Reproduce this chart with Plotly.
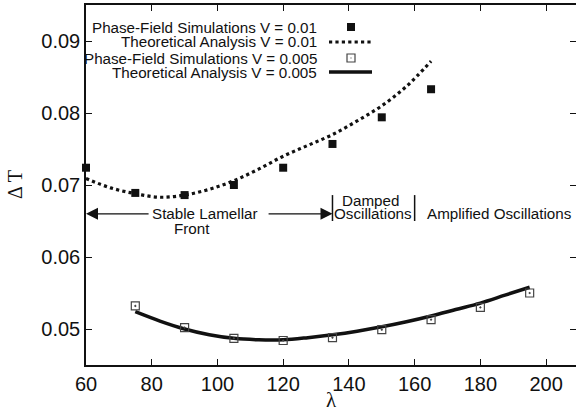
import plotly.graph_objects as go

# ---------------- data ----------------
lam_sim_01 = [60, 75, 90, 105, 120, 135, 150, 165]
dT_sim_01 = [0.0724, 0.0689, 0.0686, 0.0700, 0.0724, 0.0757, 0.0794, 0.0833]

lam_th_01 = [60, 67.5, 75, 82.5, 90, 97.5, 105, 112.5, 120, 127.5, 135, 142.5, 150, 157.5, 165]
dT_th_01 = [0.0709, 0.0696, 0.0688, 0.0683, 0.0686, 0.0694, 0.0706, 0.0722, 0.0740,
            0.0755, 0.0770, 0.0789, 0.0810, 0.0837, 0.0872]

lam_sim_005 = [75, 90, 105, 120, 135, 150, 165, 180, 195]
dT_sim_005 = [0.0532, 0.0502, 0.0487, 0.0484, 0.0488, 0.0499, 0.0513, 0.0530, 0.0550]

lam_th_005 = [75, 82.5, 90, 97.5, 105, 112.5, 120, 127.5, 135, 142.5, 150, 157.5, 165,
              172.5, 180, 187.5, 195]
dT_th_005 = [0.0524, 0.0511, 0.0500, 0.0492, 0.0487, 0.0485, 0.0485, 0.0488, 0.0492,
             0.0497, 0.0503, 0.0510, 0.0518, 0.0527, 0.0536, 0.0547, 0.0558]

x_ticks = [60, 80, 100, 120, 140, 160, 180, 200]
y_ticks = [0.05, 0.06, 0.07, 0.08, 0.09]
y_ticktext = ["0.05", "0.06", "0.07", "0.08", "0.09"]

legend_labels = ["Phase-Field Simulations V = 0.01",
                 "Theoretical Analysis V = 0.01",
                 "Phase-Field Simulations V = 0.005",
                 "Theoretical Analysis V = 0.005"]

# ---------------- geometry ----------------
W, H = 576, 415
ML, MR, MT, MB = 86, 0, 5, 50
PW, PH = W - ML - MR, H - MT - MB
X_RANGE = [60, 209.1]
Y_RANGE = [0.045, 0.095]

def px(xp):
    return (xp - ML) / PW

def py(yp):
    return (H - MB - yp) / PH

FONT = "Liberation Sans, Arial, Helvetica, sans-serif"
SERIF = "Liberation Serif, Times New Roman, serif"
BLACK = "#111111"
TXT = 15.2

fig = go.Figure()

fig.add_trace(go.Scatter(x=lam_th_01, y=dT_th_01, mode="lines", line_shape="spline",
                         line=dict(color=BLACK, width=3.2, dash="dot"), showlegend=False))
fig.add_trace(go.Scatter(x=lam_th_005, y=dT_th_005, mode="lines", line_shape="spline",
                         line=dict(color=BLACK, width=3.5), showlegend=False))
fig.add_trace(go.Scatter(x=lam_sim_01, y=dT_sim_01, mode="markers",
                         marker=dict(symbol="square", size=8, color=BLACK), showlegend=False,
                         cliponaxis=False))
fig.add_trace(go.Scatter(x=lam_sim_005, y=dT_sim_005, mode="markers",
                         marker=dict(symbol="square-open-dot", size=8, color="#444444",
                                     line=dict(width=1.2, color="#444444")),
                         showlegend=False))
fig.add_trace(go.Scatter(x=[], y=[], yaxis="y2", showlegend=False, hoverinfo="skip"))

shapes = []
annotations = []

# ---- legend (text right-aligned, key to the right) ----
rows_y = [27, 42, 58, 72]
for lbl, ry in zip(legend_labels, rows_y):
    annotations.append(dict(text=lbl, xref="paper", yref="paper", x=px(319), y=py(ry),
                            xanchor="right", yanchor="middle", showarrow=False,
                            font=dict(family=FONT, size=TXT, color=BLACK)))
# filled square key
shapes.append(dict(type="rect", xref="paper", yref="paper",
                   x0=px(347), x1=px(355), y0=py(31), y1=py(23),
                   fillcolor=BLACK, line=dict(width=0)))
# dotted line key
shapes.append(dict(type="line", xref="paper", yref="paper",
                   x0=px(329), x1=px(372), y0=py(42), y1=py(42),
                   line=dict(color=BLACK, width=3.2, dash="dot")))
# open square key
shapes.append(dict(type="rect", xref="paper", yref="paper",
                   x0=px(347), x1=px(355), y0=py(62), y1=py(54),
                   fillcolor="rgba(0,0,0,0)", line=dict(color="#444444", width=1.2)))
shapes.append(dict(type="rect", xref="paper", yref="paper",
                   x0=px(350.5), x1=px(351.5), y0=py(58.5), y1=py(57.5),
                   fillcolor="#444444", line=dict(width=0)))
# solid line key
shapes.append(dict(type="line", xref="paper", yref="paper",
                   x0=px(329), x1=px(372), y0=py(72), y1=py(72),
                   line=dict(color=BLACK, width=3.5)))

# ---- regime annotations ----
arrow_y = 0.0660
annotations.append(dict(x=60, y=arrow_y, ax=79.5, ay=arrow_y, xref="x", yref="y",
                        axref="x", ayref="y", text="", showarrow=True,
                        arrowhead=2, arrowsize=2, arrowwidth=1.2, arrowcolor=BLACK))
annotations.append(dict(x=135, y=arrow_y, ax=115.1, ay=arrow_y, xref="x", yref="y",
                        axref="x", ayref="y", text="", showarrow=True,
                        arrowhead=2, arrowsize=2, arrowwidth=1.2, arrowcolor=BLACK))
annotations.append(dict(text="Stable Lamellar", x=96.2, y=arrow_y, xref="x", yref="y",
                        showarrow=False, xanchor="center", yanchor="middle",
                        font=dict(family=FONT, size=TXT, color=BLACK)))
annotations.append(dict(text="Front", x=92.3, y=0.0639, xref="x", yref="y",
                        showarrow=False, xanchor="center", yanchor="middle",
                        font=dict(family=FONT, size=TXT, color=BLACK)))
for xv in [135, 160]:
    shapes.append(dict(type="line", xref="x", yref="y", x0=xv, x1=xv,
                       y0=0.0650, y1=0.0686, line=dict(color=BLACK, width=1.5)))
annotations.append(dict(text="Damped", x=146.5, y=0.0679, xref="x", yref="y",
                        showarrow=False, xanchor="center", yanchor="middle",
                        font=dict(family=FONT, size=TXT, color=BLACK)))
annotations.append(dict(text="Oscillations", x=147.4, y=arrow_y + 0.0001, xref="x", yref="y",
                        showarrow=False, xanchor="center", yanchor="middle",
                        font=dict(family=FONT, size=TXT, color=BLACK)))
annotations.append(dict(text="Amplified Oscillations", x=185.7, y=arrow_y + 0.0001,
                        xref="x", yref="y", showarrow=False, xanchor="center",
                        yanchor="middle", font=dict(family=FONT, size=TXT, color=BLACK)))

# ---- axis titles ----
annotations.append(dict(text="Δ T", xref="paper", yref="paper", x=px(15), y=py(185),
                        textangle=-90, showarrow=False, xanchor="center", yanchor="middle",
                        font=dict(family=SERIF, size=20, color=BLACK)))
annotations.append(dict(text="λ", xref="paper", yref="paper", x=px(331), y=py(400),
                        showarrow=False, xanchor="center", yanchor="middle",
                        font=dict(family=SERIF, size=21, color=BLACK)))

axis_common = dict(showgrid=False, zeroline=False, showline=True, linecolor=BLACK,
                   linewidth=1.5, ticks="inside", ticklen=6, tickwidth=1, automargin=False,
                   tickcolor=BLACK, tickfont=dict(family=FONT, size=20, color=BLACK))

fig.update_layout(
    width=W, height=H,
    margin=dict(l=ML, r=MR, t=MT, b=MB, pad=0, autoexpand=False),
    paper_bgcolor="white", plot_bgcolor="white",
    showlegend=False,
    xaxis=dict(range=X_RANGE, tickvals=x_ticks, mirror="ticks", **axis_common),
    yaxis=dict(range=Y_RANGE, tickvals=y_ticks, ticktext=y_ticktext, mirror=False,
               **axis_common),
    yaxis2=dict(range=Y_RANGE, overlaying="y", side="right", tickvals=y_ticks,
                showticklabels=False, showgrid=False, zeroline=False, showline=False,
                automargin=False,
                ticks="inside", ticklen=6, tickwidth=1, tickcolor=BLACK),
    shapes=shapes,
    annotations=annotations,
)

fig.write_html("out.html", config={"displayModeBar": False},
               post_script="document.body.style.margin='0';document.body.style.padding='0';")
